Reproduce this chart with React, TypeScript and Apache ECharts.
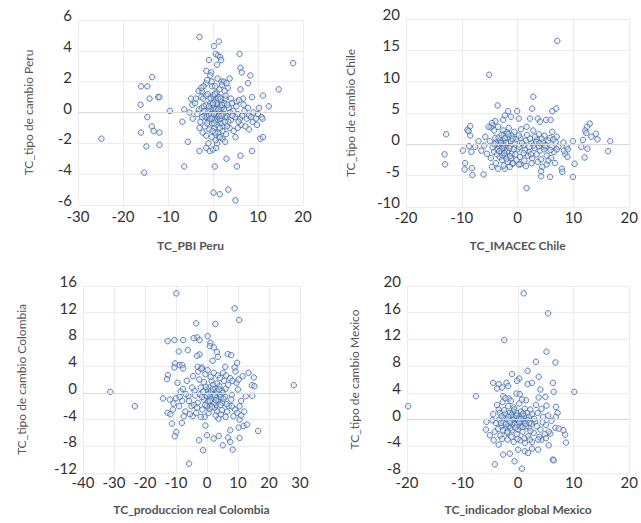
import React, { useEffect, useRef } from "react";
import * as echarts from "echarts";

// ---- Data: [x, y] pairs ----
const peru: number[][] = [
  [-3.0,4.9],[1.3,4.6],[0.2,4.3],[5.9,3.8],[0.6,3.8],[1.1,3.7],[1.6,3.6],[1.8,3.4],[-0.9,3.4],[0.9,3.1],
  [17.8,3.2],[6.1,2.9],[6.4,2.6],[-1.5,2.7],[-0.4,2.6],[-0.6,2.4],[8.3,2.4],[3.7,2.2],[-13.5,2.3],[-14.6,1.7],
  [-16.0,1.7],[7.8,1.9],[1.9,2.0],[2.4,2.0],[-1.5,1.9],[-2.1,1.7],[-0.2,1.7],[3.3,1.6],[6.1,1.5],[14.6,1.5],
  [-2.5,1.4],[-14.1,0.9],[-12.2,1.0],[-11.9,1.0],[-4.9,0.9],[-2.6,1.0],[6.7,0.9],[8.7,1.0],[11.1,1.1],[-1.5,1.1],
  [0.1,1.0],[1.5,1.0],[2.7,0.9],[4.0,0.9],[5.3,0.7],[-16.1,0.5],[-4.6,0.5],[12.4,0.4],[10.2,0.3],[-6.4,0.2],
  [-3.1,0.2],[-9.6,0.1],[-14.6,-0.3],[-6.8,-0.6],[-13.6,-0.9],[-13.2,-1.2],[-11.9,-1.3],[-16.0,-1.3],[-24.8,-1.7],[-5.6,-1.9],
  [-14.8,-2.2],[-11.9,-2.1],[5.0,-1.6],[10.5,-1.7],[11.1,-1.6],[8.0,-1.1],[1.3,-1.6],[2.1,-1.7],[2.7,-1.9],[-1.5,-2.3],
  [-0.7,-2.5],[0.0,-2.4],[0.7,-2.3],[0.9,-2.0],[-3.0,-2.5],[8.7,-2.5],[3.0,-3.0],[6.1,-2.8],[-6.4,-3.5],[0.4,-3.5],
  [5.3,-3.5],[-15.3,-3.9],[0.1,-5.2],[1.5,-5.3],[3.4,-5.0],[5.0,-5.7],
  [-2.5,0.3],[-2,-0.2],[-1.5,0.5],[-1,-0.5],[-0.5,0.2],[0,-0.3],[0.5,0.4],[1,-0.6],[1.5,0.1],[2,-0.4],
  [2.5,0.6],[3,-0.2],[-1.8,-0.9],[-0.8,-1.1],[0.3,-1.0],[1.2,-1.3],[2.2,-0.9],[-2.8,-0.6],[-3.5,-0.1],[-2.2,0.9],
  [-1.2,1.2],[0.2,0.8],[0.8,1.3],[1.8,0.7],[2.8,1.1],[3.5,0.3],[4,-0.5],[4.5,0.1],[5,-0.3],[5.5,-0.1],
  [6,-0.4],[6.5,-0.2],[7,0.1],[7.5,-0.4],[8,-0.2],[8.5,-0.3],[9,0],[9.5,-0.4],[10,-0.1],[4.2,0.6],
  [5.2,0.4],[6.2,-0.8],[7.2,-0.9],[3.7,-1.0],[4.6,-1.2],[-0.3,-1.6],[-1.5,-1.5],[-2.3,-1.3],[-3.0,-1.0],[-4,0.6],
  [-3.2,1.4],[-2.6,1.6],[0.5,1.7],[1.4,1.5],[2.6,1.4],[-0.6,0.6],[0.7,-0.1],[1.7,-0.7],[2.4,0.2],[-1.1,0.1],
  [0.1,0.3],[1.1,0.5],[-0.2,-0.7],[0.9,-0.3],[1.9,0.3],[3.2,0.5],[3.4,-0.6],[-2.0,0.4],[-1.6,-0.3],[-0.9,-0.2],
  [0.4,-0.5],[1.3,-0.1],[2.1,-1.2],[2.9,-1.4],[-1.0,-2.0],[0.6,-1.8],[1.6,-1.6],[5.8,0.8],[6.8,0.5],[7.8,0.3],
  [8.8,-0.6],[9.8,-0.8],[10.8,-0.3],[11.0,-0.4],[5.5,-1.0],[-4.5,-0.4],[-5.2,0.0],[-3.8,0.9],[2.0,1.8],[3.0,1.9],
  [-0.3,2.0],[1.0,2.2],[-1.3,2.1],[0.0,1.1],[0.4,0.0],[-0.4,-0.1],[1.5,-0.4],[2.7,-0.3],[3.8,0.0],
  [0.2,-0.1],[0.6,0.2],[0.9,-0.8],[1.4,-0.2],[1.1,0.9],[-0.1,0.5],[-0.7,-0.4],[0.3,-0.7],[1.6,0.4],[2.3,-0.1],
  [-0.3,-0.4],[0.8,0.6],[1.9,-0.2],[-1.3,-0.7],[0.5,-1.3],[-0.5,0.9],[1.2,0.2],[2.0,0.5],[-0.9,0.4],[0.0,0.6],
  [1.5,-1.0],[-1.9,0.1],[2.6,-0.6],[0.4,1.2],[-0.1,-1.2],[1.7,0.9],[3.1,-0.9],[-2.4,-0.3],[4.3,-0.2],[5.7,-0.6]
];

const chile: number[][] = [
  [7.1,16.5],[-5.1,11.1],[2.8,7.6],[-3.6,6.2],[2.6,5.7],[6.9,5.7],[6.2,5.3],[-1.7,5.3],[-0.1,5.3],[-2.3,4.6],
  [-1.2,4.4],[-2.6,3.9],[0.2,4.1],[2.2,4.1],[3.6,4.1],[5.1,3.9],[5.9,3.9],[-4.0,3.7],[4.0,3.6],[12.9,3.3],
  [-4.5,3.0],[-4.8,2.7],[-8.5,2.9],[-9.0,2.3],[-8.8,2.1],[-8.5,1.4],[-12.8,1.6],[12.4,2.8],[12.1,2.2],[12.3,1.8],
  [14.0,1.7],[13.2,1.2],[14.3,0.8],[11.7,0.7],[9.9,0.5],[16.6,0.5],[16.2,-1.1],[11.4,-0.4],[12.5,-0.7],[12.0,-2.1],
  [-13.1,-1.6],[-13.0,-3.2],[-9.4,-3.0],[-9.5,-4.0],[-8.2,-3.8],[-8.1,-4.9],[-6.1,-4.8],[-9.8,-1.0],[-8.7,-0.3],[-7.6,-0.4],
  [-8.3,-1.2],[1.6,-7.0],[4.2,-5.1],[5.8,-5.2],[9.9,-5.2],[10.2,-3.1],[7.9,-3.9],[8.0,-4.4],[6.7,-3.0],[5.2,-3.2],
  [4.4,-3.6],[4.2,-4.3],[0.5,-3.2],[-1.0,-3.1],[-2.3,-3.9],[-3.5,-3.9],[-4.6,-3.6],[8.5,-1.5],[8.8,-0.4],[8.3,-1.0],
  [8.9,-2.0],[7.3,-0.4],[6.1,-0.4],
  [-5,0.5],[-4.5,-0.5],[-4,1],[-3.5,0],[-3,-1],[-2.5,0.5],[-2,-0.5],[-1.5,1.2],[-1,-1.5],[-0.5,0.3],
  [0,-0.8],[0.5,1],[1,-0.2],[1.5,0.6],[2,-1.2],[2.5,0.2],[3,-0.6],[3.5,0.8],[4,-1],[4.5,0.3],
  [5,-0.5],[5.5,0.6],[-3.2,-2],[-2.8,-2.5],[-2.2,-1.8],[-1.8,-2.8],[-1.2,-2.2],[-0.8,-3],[-0.2,-2.5],[0.4,-2],
  [1.2,-2.6],[1.8,-1.8],[2.6,-2.2],[3.4,-1.6],[4.2,-2.4],[5.2,-1.8],[6,-2.2],[6.5,-1.2],[7,-0.8],[-4.8,-2.2],
  [-5.5,-1.5],[-6,-0.2],[-5.8,1.2],[-4.2,2.2],[-3.5,2.8],[-2.6,2.2],[-1.6,2.6],[-0.6,2],[0.6,2.4],[1.6,2.8],
  [2.8,2.2],[3.8,1.6],[4.8,1.4],[5.8,1],[6.8,0.4],[-3.8,0.3],[-3.3,-0.4],[-2.7,0.1],[-2.3,-0.9],[-1.7,0.2],
  [-1.3,-0.3],[-0.7,-0.8],[-0.3,0.8],[0.3,-0.4],[0.8,0.2],[1.3,-0.9],[1.7,1.5],[2.2,0.9],[2.8,-0.2],[3.3,0.4],
  [3.8,-0.3],[4.3,0.9],[4.7,-0.8],[-4.2,-1.2],[-3.7,-1.6],[-2.9,-1.3],[-2.4,1.6],[-1.9,1.9],[-1.1,1.4],[-0.4,-1.6],
  [0.2,1.4],[1.1,-1.4],[2.1,-0.4],[3.1,1.2],[-6.5,-1],[-7,0.5],[-5.2,2.8],[-4.6,3.4],[-3.9,-3],[-2.5,-3.4],
  [-1.4,-3.6],[0.2,-3.2],[1.5,-3.5],[2.5,-3],[3.6,-2.8],[5.5,-2.6],[6.2,2],[7,1.2],[8.2,0.3],[9,-0.8],
  [-3.1,0.6],[-2.6,-0.2],[-2.1,0.3],[-1.9,-1.1],[-2.8,-0.7],[-3.4,1.1],[-1.5,-0.6],[-2.3,1.0],[-3.0,0.2],[-1.2,0.5],
  [-2.7,-1.8],[-2.0,-2.3],[-3.6,-0.8],[-1.7,1.6],[-0.9,0.9],[-2.4,-1.4],[-3.3,-1.1],[-1.4,-1.9],[-2.9,1.5],[-4.1,0.0],
  [3.9,0.2],[4.9,-0.2],[5.9,-0.9],[2.4,-1.6],[6.4,0.8]
];

const colombia: number[][] = [
  [-9.9,14.9],[8.9,12.65],[10.4,10.9],[-3.5,10.4],[2.7,10.3],[0.2,8.5],[-3.2,8.3],[-4.3,8.2],[-2.4,7.9],[-12.7,7.75],
  [-10.5,7.9],[-7.7,7.9],[1.1,7.5],[0.9,7.0],[2.2,6.8],[-6.2,6.4],[-9.1,6.2],[3.2,6.1],[-2.4,5.75],[-3.2,5.55],
  [6.7,5.8],[7.8,5.65],[3.5,5.4],[1.8,4.8],[9.7,4.5],[8.9,3.8],[-10.3,4.4],[-8.9,4.15],[-7.96,4.15],[-10.5,3.8],
  [-7.7,3.65],[-3.0,3.9],[-1.6,3.8],[5.9,3.9],[13.4,3.0],[15.1,2.3],[-12.6,2.65],[-12.9,2.05],[14.5,1.15],[15.3,1.0],
  [28.0,1.15],[-31.2,0.15],[-23.3,-2.0],[-14.2,-0.85],[-12.7,-3.0],[-11.3,-4.6],[-8.1,-4.5],[-9.9,-5.85],[-10.4,-6.5],[-4.6,-3.5],
  [-2.6,-7.1],[-1.3,-8.6],[-5.8,-10.6],[0,-6.35],[-0.5,-4.9],[2.15,-6.85],[3.8,-6.45],[5.1,-7.85],[6.8,-6.7],[7.5,-7.35],
  [8.3,-8.5],[7.5,-5.6],[10.5,-4.0],[10.2,-5.2],[10.5,-6.75],[11.8,-4.95],[12.9,-4.75],[16.5,-5.7],[14.6,-0.45],[3.7,-3.85],
  [3.2,-2.75],
  [-12,-1],[-11,-2.5],[-10,-0.8],[-9,-2],[-8,-1.2],[-7,-2.8],[-6,-0.5],[-5,-2],[-4,0.3],[-3,-1.5],
  [-2,0.8],[-1,-1],[0,0.5],[1,-1.8],[2,0.2],[3,-0.8],[4,1],[5,-1.5],[6,0.6],[7,-2],
  [8,-0.3],[9,-2.5],[10,0.5],[11,-1.2],[12,-2.8],[-9.5,1.5],[-8.5,0.2],[-7.5,-3.5],[-6.5,1.8],[-5.5,-3.2],
  [-4.5,2.5],[-3.5,-3],[-2.5,2],[-1.5,-2.5],[-0.5,2.8],[0.5,-3],[1.5,1.8],[2.5,-2.2],[3.5,2.6],[4.5,-3.2],
  [5.5,1.8],[6.5,-2.8],[7.5,2.2],[8.5,-3.5],[9.5,1.5],[10.5,-2],[11.5,2.5],[12.5,-0.5],[-2.2,-0.2],[-1.2,0.2],
  [-0.2,-0.5],[0.8,0.8],[1.8,-0.3],[2.8,0.6],[3.8,-0.9],[4.8,0.3],[5.8,-0.6],[6.8,1.2],[7.8,-1],[-3.8,-0.4],
  [-4.8,0.8],[-5.8,-1.2],[-6.8,-0.2],[-7.8,0.6],[-8.8,-0.6],[-10.8,-1.6],[-11.8,-3.2],[-2.8,3.2],[-1.8,3.6],[0.2,3.4],
  [1.2,2.4],[2.2,3.0],[3.2,1.4],[4.2,2.2],[5.2,3.0],[6.2,2.6],[8.2,1.8],[9.2,3.2],[10.2,2],[-0.8,-3.6],
  [0.8,-2.4],[2.8,-3.4],[4.8,-2.6],[6,-3.6],[8,-2],[9.8,-3],[11,-3.4],[-4.2,-1.8],[-3.2,-2.2],[-2,-3.6],
  [1,-0.6],[3,-1.8],[5,0],[-1,1.6],[0,-2],[2,1.2],[4,-0.2],
  [0.5,-0.2],[1.5,-1.0],[2.5,-0.4],[3.5,-1.3],[4.5,-0.6],[0.3,-1.3],[1.3,0.3],[2.3,-1.5],[3.3,0.2],[4.3,-1.8],
  [-0.6,-1.8],[0.9,-1.2],[1.9,0.6],[2.9,-1.1],[3.9,0.5],[5.3,-0.9],[6.3,-1.7],[-1.6,-0.6],[-0.4,0.9],[1.6,-2.1]
];

const mexico: number[][] = [
  [1.0,18.9],[5.4,15.9],[-2.5,11.9],[5.1,10.15],[3.2,8.65],[6.7,8.55],[1.7,7.3],[-1.1,6.8],[3.7,6.4],[0.2,6.15],
  [-0.2,5.8],[-4.5,5.5],[-3.5,5.3],[-2.1,5.5],[-1.8,5.0],[1.7,5.3],[2.5,5.5],[6.25,5.5],[-3.8,4.65],[-2.9,4.8],
  [4.0,4.5],[6.4,4.15],[10.1,4.15],[-7.6,3.5],[-2.7,3.5],[-1.7,3.15],[-0.3,3.9],[0.3,3.8],[1.4,2.9],[3.7,3.3],
  [4.9,3.4],[-19.8,2.0],[5.1,2.1],[6.8,1.9],[7.1,1.0],[6.8,0.4],[-5.7,-0.35],[-5.8,-1.5],[-5.1,-2.35],[-4.4,-3.1],
  [-3.5,-3.75],[-2.7,-5.25],[-1.5,-5.1],[-4.2,-6.7],[-0.65,-6.25],[0.7,-7.35],[0,-4.5],[1.2,-4.75],[1.8,-5.0],[2.5,-4.35],
  [3.6,-4.5],[5.5,-3.85],[6.25,-6.0],[6.4,-6.1],[8.6,-3.45],[8.45,-2.25],[8.15,-1.6],[6.7,-1.25],[7.3,-1.35],[5.8,-2.1],
  [4.2,-3.0],[2.5,-3.35],[1.2,-3.5],[0.4,-3.1],[-0.8,-3.35],
  [-4.5,0.8],[-4,-0.5],[-3.5,1.5],[-3,-1],[-2.5,0.3],[-2,-2],[-1.5,1],[-1,-0.8],[-0.5,0.5],[0,-1.5],
  [0.5,1.2],[1,-0.5],[1.5,0.2],[2,-1.2],[2.5,0.8],[3,-0.3],[3.5,1],[4,-1.5],[4.5,0.4],[5,-0.8],
  [5.5,-1.8],[6,-0.2],[-4.2,-1.8],[-3.8,2.2],[-3.2,-2.4],[-2.8,2.6],[-2.2,-1.2],[-1.8,2],[-1.2,-2.6],[-0.8,1.8],
  [-0.2,-2.2],[0.2,2.4],[0.8,-1.8],[1.2,1.6],[1.8,-2.5],[2.2,1.5],[2.8,-2],[3.2,2.2],[3.8,-2.6],[4.2,1.6],
  [4.8,-2.2],[-2.6,-0.4],[-2.4,0.9],[-1.6,-0.2],[-1.4,0.4],[-0.6,-0.6],[-0.4,0.1],[0.4,-0.4],[0.6,0.6],[1.4,-1],
  [1.6,1],[-3.4,0],[-3.6,-1.4],[-4.6,-0.1],[-1.1,-1.6],[-0.9,1.2],[0.1,0.2],[0.9,-0.2],[1.9,0.4],[2.4,-0.6],
  [3.4,-1],[4.4,-0.4],[5.4,0.6],[-2.9,-2.9],[-1.9,-3],[-0.1,-2.9],[1.1,-2.8],[2.1,-3],[3.6,-3],[5,-2.8],
  [-1.3,2.8],[0.7,3.0],[-2.3,3.2],[-3.3,1],[2.9,0.1],[0.3,-1],[-0.3,1],[-1.7,-1],[1.7,-0.1],[-2,0],
  [-1,0],[0,0],[1,0.5],[2,-0.5],[-3,0.5],
  [-1.5,-0.4],[-0.8,0.3],[-0.2,-0.8],[0.5,0.1],[-1.2,0.7],[-2.2,-0.7],[-0.5,-1.2],[0.8,-1.1],[-1.8,0.4],[-2.7,-1.6],
  [-0.7,1.5],[0.2,-0.4],[-1.4,-1.3],[-2.5,1.4],[0.9,0.9],[-3.1,-0.5],[1.3,-0.6],[-0.3,0.6],[-1.9,-1.8],[2.2,-1.7]
];

const xNames = ["TC_PBI Peru", "TC_IMACEC Chile", "TC_produccion real Colombia", "TC_indicador global Mexico"];
const yNames = ["TC_tipo de cambio Peru", "TC_tipo de cambio Chile", "TC_tipo de cambio Colombia", "TC_tipo de cambio Mexico"];
const xRanges = [[-30, 20, 10], [-20, 20, 10], [-40, 30, 10], [-20, 20, 10]];
const yRanges = [[-6, 6, 2], [-10, 20, 5], [-12, 16, 4], [-8, 20, 4]];

const grids = [
  { left: 78, top: 20, width: 225, height: 185 },
  { left: 406, top: 19, width: 227, height: 188 },
  { left: 83, top: 286, width: 217, height: 187 },
  { left: 407, top: 286, width: 224, height: 187 },
];
const xLabelMargins = [3, 2, 1, 1];
const xNameGaps = [34, 32, 30, 30];
const yNameGaps = [44, 50, 56, 47];

export default function App() {
  const ref = useRef<HTMLDivElement>(null);
  useEffect(() => {
    if (!ref.current) return;
    const chart = echarts.init(ref.current, undefined, { renderer: "svg" });
    const datasets = [peru, chile, colombia, mexico];
    const font = "Lato, 'Open Sans', sans-serif";
    const option: any = {
      animation: false,
      backgroundColor: "#ffffff",
      grid: grids.map((g) => ({ ...g, containLabel: false })),
      xAxis: xRanges.map((r, i) => ({
        type: "value",
        gridIndex: i,
        min: r[0],
        max: r[1],
        interval: r[2],
        name: xNames[i],
        nameLocation: "middle",
        nameGap: xNameGaps[i],
        nameTextStyle: { fontSize: 12, color: "#555", fontFamily: font, fontWeight: "bold" },
        axisLine: { show: false },
        axisTick: { show: false },
        axisLabel: { fontSize: 15, color: "#333", fontFamily: font, margin: xLabelMargins[i] },
        splitLine: { show: true, lineStyle: { color: "#ececec", width: 1 } },
      })),
      yAxis: yRanges.map((r, i) => ({
        type: "value",
        gridIndex: i,
        min: r[0],
        max: r[1],
        interval: r[2],
        name: yNames[i],
        nameLocation: "middle",
        nameGap: yNameGaps[i],
        nameTextStyle: { fontSize: 12, color: "#555", fontFamily: font },
        axisLine: { show: false },
        axisTick: { show: false },
        axisLabel: {
          fontSize: 15,
          color: "#333",
          fontFamily: font,
          margin: 6,
          verticalAlign: "bottom",
          lineHeight: 10,
        },
        splitLine: { show: true, lineStyle: { color: "#ececec", width: 1 } },
      })),
      series: datasets.map((d, i) => ({
        type: "scatter",
        xAxisIndex: i,
        yAxisIndex: i,
        data: d,
        symbol: "circle",
        symbolSize: 5.5,
        itemStyle: { color: "rgba(205,220,243,0.55)", borderColor: "#4068a3", borderWidth: 1 },
        markLine: {
          silent: true,
          symbol: "none",
          label: { show: false },
          lineStyle: { color: "#d9d9d9", type: "solid", width: 1 },
          data: [{ yAxis: 0 }],
        },
      })),
    };
    chart.setOption(option);
    return () => chart.dispose();
  }, []);
  return (
    <div
      ref={ref}
      style={{ position: "absolute", left: 0, top: 0, width: 641, height: 523, background: "#fff" }}
    />
  );
}
